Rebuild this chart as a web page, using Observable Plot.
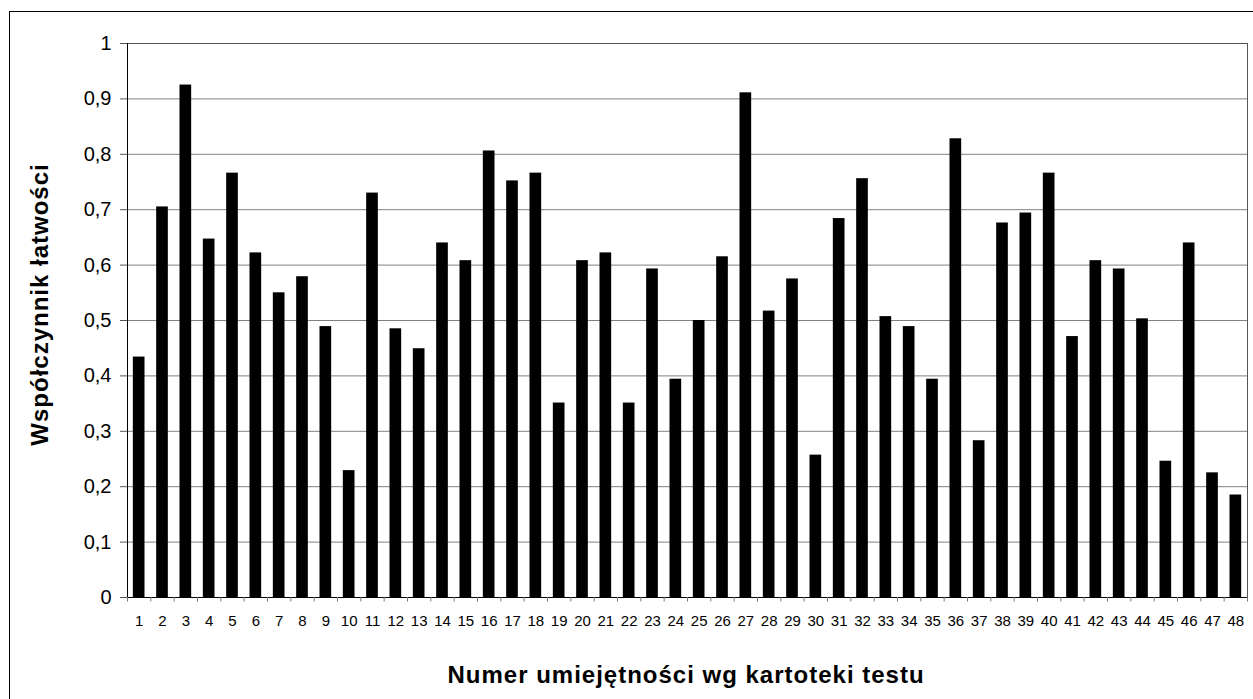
<!DOCTYPE html>
<html>
<head>
<meta charset="utf-8">
<script src="https://cdn.jsdelivr.net/npm/d3@7"></script>
<script src="https://cdn.jsdelivr.net/npm/@observablehq/plot@0.6"></script>
<style>
  html, body { margin: 0; padding: 0; background: #fff; }
  #wrap { position: relative; width: 1253px; height: 699px; overflow: hidden; }
  #frame { position: absolute; left: 9px; top: 11px; width: 1300px; height: 800px;
           border-left: 1.5px solid #000; border-top: 1.5px solid #000; pointer-events: none; }
  svg { display: block; }
  g[aria-label="text"] text { letter-spacing: 1px; }
</style>
</head>
<body>
<div id="wrap"><div id="frame"></div></div>
<script>
const categories = [1,2,3,4,5,6,7,8,9,10,11,12,13,14,15,16,17,18,19,20,21,22,23,24,25,26,27,28,29,30,31,32,33,34,35,36,37,38,39,40,41,42,43,44,45,46,47,48];
const values = [0.434,0.705,0.925,0.647,0.766,0.622,0.550,0.579,0.489,0.229,0.730,0.485,0.449,0.640,0.608,0.806,0.752,0.766,0.351,0.608,0.622,0.351,0.593,0.394,0.500,0.615,0.911,0.517,0.575,0.257,0.684,0.756,0.507,0.489,0.394,0.828,0.283,0.676,0.694,0.766,0.471,0.608,0.593,0.503,0.246,0.640,0.225,0.185];
const yTicks = [0,0.1,0.2,0.3,0.4,0.5,0.6,0.7,0.8,0.9,1];
const yTickLabels = ["0","0,1","0,2","0,3","0,4","0,5","0,6","0,7","0,8","0,9","1"];
const yTitle = "Współczynnik łatwości";
const xTitle = "Numer umiejętności wg kartoteki testu";

const data = categories.map((c, i) => ({n: c, v: values[i]}));
const boundaries = [categories[0] - 0.5, ...categories.map(c => c + 0.5)];
const font = "'Liberation Sans', Arial, sans-serif";

const chart = Plot.plot({
  width: 1253,
  height: 699,
  marginLeft: 127,
  marginRight: 6,
  marginTop: 43,
  marginBottom: 102,
  style: {fontFamily: font, background: "transparent", overflow: "visible"},
  x: {type: "linear", domain: [categories[0] - 0.5, categories[categories.length - 1] + 0.5]},
  y: {domain: [0, 1]},
  marks: [
    Plot.gridY(yTicks, {stroke: "#808080", strokeOpacity: 1}),
    Plot.frame({stroke: "#555"}),
    Plot.rectY(data, {x1: d => d.n - 0.25, x2: d => d.n + 0.25, y: "v", fill: "#000"}),
    Plot.ruleY([0], {stroke: "#000"}),
    Plot.ruleX([categories[0] - 0.5], {stroke: "#000"}),
    Plot.axisY({ticks: yTicks, tickFormat: (d, i) => yTickLabels[i], tickSize: 7, tickPadding: 9,
                fontSize: 20, label: null, stroke: "#555", fill: "#000"}),
    Plot.axisX({ticks: boundaries, tickSize: 4.5, tickFormat: () => "", label: null, stroke: "#777"}),
    Plot.axisX({ticks: categories, tickSize: 0, tickPadding: 18, fontSize: 15, label: null,
                tickFormat: d => String(d), fill: "#000"}),
    Plot.text([yTitle], {frameAnchor: "left", textAnchor: "middle", rotate: -90, dx: -87, dy: -16,
                         fontSize: 24, fontWeight: "bold", fill: "#000"}),
    Plot.text([xTitle], {frameAnchor: "bottom", textAnchor: "middle", dx: -1.5, dy: 85,
                         fontSize: 24, fontWeight: "bold", fill: "#000"})
  ]
});
document.getElementById("wrap").prepend(chart);
</script>
</body>
</html>
